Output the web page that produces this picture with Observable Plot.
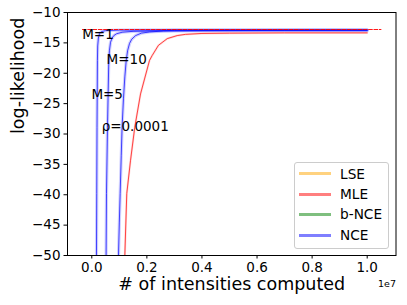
<!DOCTYPE html>
<html>
<head>
<meta charset="utf-8">
<script src="https://cdn.jsdelivr.net/npm/d3@7"></script>
<script src="https://cdn.jsdelivr.net/npm/@observablehq/plot@0.6"></script>
<style>
  body { margin: 0; background: white; font-family: "DejaVu Sans", sans-serif; }
  #wrap { position: relative; width: 407px; height: 305px; }
  .legend { position: absolute; left: 294px; top: 162px; width: 93px; height: 85px;
            border: 1px solid #cccccc; border-radius: 3px; background: rgba(255,255,255,0.8); }
  .row { position: absolute; left: 0; height: 20px; }
  .sw { position: absolute; left: 3.5px; width: 32px; height: 3px; top: 8.5px; }
  .lb { position: absolute; left: 45px; top: 0; font-size: 13.7px; line-height: 20px; color: #000; white-space: nowrap; }
</style>
</head>
<body>
<div id="wrap"></div>
<script>
// ---- data (x in units of 1e7) ----
const xOffset = 1e7;
const nceM1X = [0.017, 0.018, 0.019, 0.0205, 0.0215, 0.024, 0.028, 0.035, 0.05, 0.1, 0.3, 1.0];
const nceM1Y = [-50, -39.8, -28.9, -17.9, -15.5, -14.2, -13.5, -13.15, -12.98, -12.9, -12.85, -12.85];
const nceM5X = [0.052, 0.0534, 0.057, 0.0617, 0.064, 0.068, 0.074, 0.08, 0.09, 0.11, 0.15, 0.3, 1.0];
const nceM5Y = [-50, -39.8, -28.9, -17.9, -16.3, -14.9, -14.2, -13.8, -13.5, -13.25, -13.1, -12.95, -12.9];
const nceM10X = [0.097, 0.1, 0.103, 0.107, 0.11, 0.115, 0.12, 0.125, 0.13, 0.137, 0.145, 0.159, 0.18, 0.21, 0.26, 0.4, 0.7, 1.0];
const nceM10Y = [-50, -44.5, -39.8, -33.5, -28.9, -24.2, -20.6, -17.9, -16.3, -15.1, -14.4, -13.8, -13.4, -13.2, -13.05, -13.0, -12.95, -12.95];
const mleX = [0.12, 0.127, 0.1405, 0.156, 0.177, 0.2095, 0.219, 0.242, 0.274, 0.31, 0.34, 0.4, 0.5, 0.7, 1.0];
const mleY = [-50, -39.8, -34.4, -28.9, -23.4, -17.9, -17.1, -15.4, -14.3, -13.8, -13.6, -13.45, -13.4, -13.35, -13.35];
const refX = [-0.034, 1.05];
const refY = [-12.8, -12.8];

const annLabels = ["M=1", "M=10", "M=5", "ρ=0.0001"];
const annX = [0.0225, 0.1267, 0.0559, 0.1576];
const annY = [-13.67, -17.82, -23.47, -28.85];

const xTicks = [0, 0.2, 0.4, 0.6, 0.8, 1.0];
const yTicks = [-10, -15, -20, -25, -30, -35, -40, -45, -50];

const legendLabels = ["LSE", "MLE", "b-NCE", "NCE"];
const legendColors = ["rgba(255,165,0,0.5)", "rgba(255,0,0,0.5)", "rgba(0,128,0,0.5)", "rgba(0,0,255,0.5)"];

// ---- build ----
const toPts = (xs, ys) => xs.map((x, i) => ({x: x * xOffset, y: ys[i]}));
const nceCurves = [toPts(nceM1X, nceM1Y), toPts(nceM5X, nceM5Y), toPts(nceM10X, nceM10Y)];
const mle = toPts(mleX, mleY);
const ref = toPts(refX, refY);
const ann = annLabels.map((t, i) => ({t, x: annX[i] * xOffset, y: annY[i]}));

const marks = [];
marks.push(Plot.line(mle, {x: "x", y: "y", stroke: "red", strokeWidth: 2.2, strokeOpacity: 0.15, clip: true}));
marks.push(Plot.line(mle, {x: "x", y: "y", stroke: "red", strokeWidth: 1, strokeOpacity: 0.7, clip: true}));
for (const c of nceCurves) {
  marks.push(Plot.line(c, {x: "x", y: "y", stroke: "blue", strokeWidth: 3.2, strokeOpacity: 0.18, clip: true}));
  marks.push(Plot.line(c, {x: "x", y: "y", stroke: "blue", strokeWidth: 1, strokeOpacity: 0.7, clip: true}));
}
marks.push(Plot.line(ref, {x: "x", y: "y", stroke: "red", strokeWidth: 1, strokeOpacity: 0.9, strokeDasharray: "3.7,1.6", clip: true}));
marks.push(Plot.text(ann, {x: "x", y: "y", text: "t", fontSize: 13.5, fill: "black", textAnchor: "middle"}));
marks.push(Plot.frame({stroke: "black", strokeWidth: 1}));
marks.push(Plot.axisX({ticks: xTicks.map(v => v * xOffset), tickSize: 3.5, tickPadding: 3.5,
  tickFormat: d => (d / xOffset).toFixed(1), label: null, fontSize: 13.5}));
marks.push(Plot.axisY({ticks: yTicks, tickSize: 3.5, tickPadding: 3.5,
  tickFormat: d => (d < 0 ? "\u2212" : "") + Math.abs(d), label: null, fontSize: 13.5}));
marks.push(Plot.text(["# of intensities computed"], {frameAnchor: "bottom", lineAnchor: "middle", dy: 29, fontSize: 17.5, fill: "black"}));
marks.push(Plot.text(["log-likelihood"], {frameAnchor: "left", lineAnchor: "middle", dx: -49, rotate: -90, fontSize: 17.5, fill: "black"}));
marks.push(Plot.text(["1e7"], {frameAnchor: "bottom-right", lineAnchor: "middle", textAnchor: "middle", dx: -9, dy: 28, fontSize: 9.5, fill: "black"}));

const chart = Plot.plot({
  width: 407,
  height: 305,
  marginLeft: 67,
  marginRight: 11.5,
  marginTop: 12,
  marginBottom: 50,
  x: {domain: [-0.0882 * xOffset, 1.1046 * xOffset]},
  y: {domain: [-50, -10]},
  style: {fontFamily: "DejaVu Sans", background: "white", color: "black", overflow: "visible"},
  marks
});
const wrap = document.getElementById("wrap");
wrap.appendChild(chart);

const legend = document.createElement("div");
legend.className = "legend";
const rowTops = [0.7, 21.3, 41.3, 62];
legendLabels.forEach((lab, i) => {
  const row = document.createElement("div");
  row.className = "row";
  row.style.top = rowTops[i] + "px";
  const sw = document.createElement("div");
  sw.className = "sw";
  sw.style.background = legendColors[i];
  const lb = document.createElement("div");
  lb.className = "lb";
  lb.textContent = lab;
  row.appendChild(sw);
  row.appendChild(lb);
  legend.appendChild(row);
});
wrap.appendChild(legend);
</script>
</body>
</html>
